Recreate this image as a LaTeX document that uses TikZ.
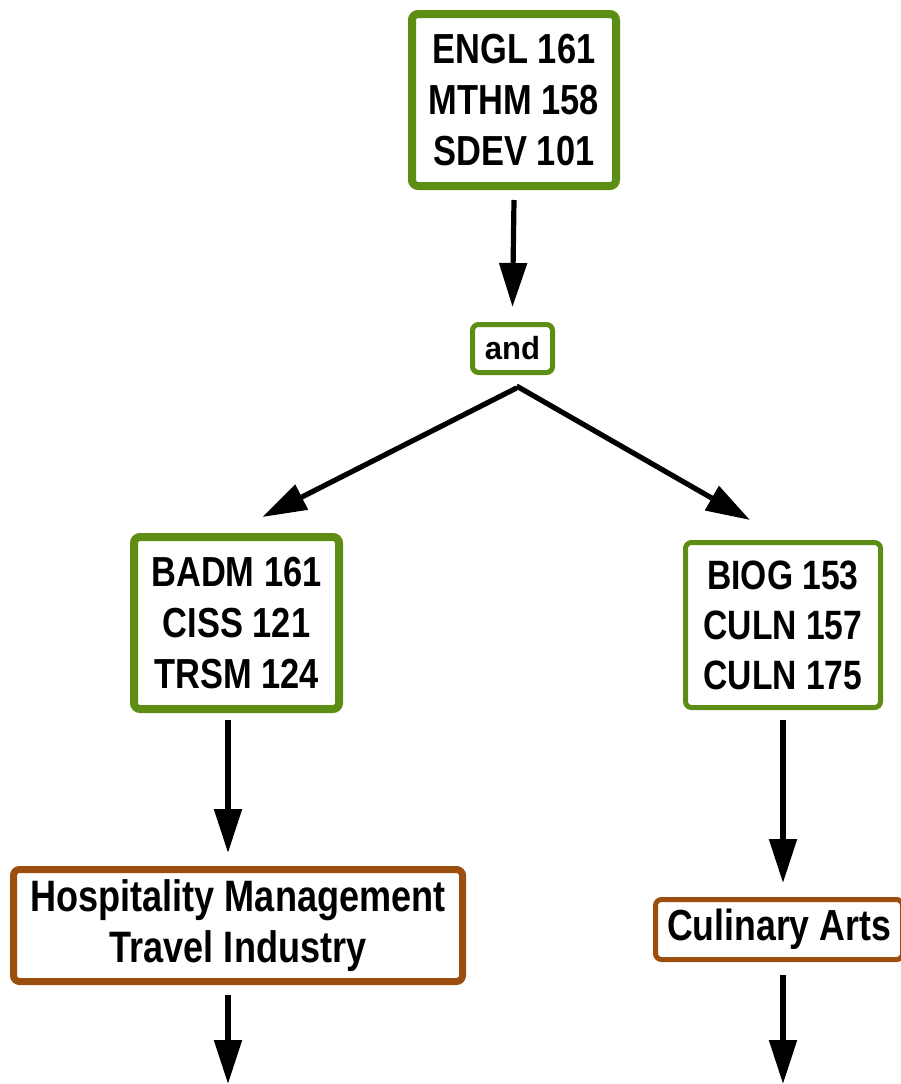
\documentclass[tikz,border=0pt]{standalone}
\usepackage{fontspec}
\setmainfont[FakeStretch=0.82]{Liberation Sans}
\newfontfamily\andfont[FakeStretch=0.97]{Liberation Sans}
\usetikzlibrary{arrows.meta}
\definecolor{boxgreen}{RGB}{94,141,20}
\definecolor{boxbrown}{RGB}{155,78,14}
\tikzset{
  course/.style={draw=boxgreen, line width=8pt, rounded corners=6pt, fill=white, inner sep=0pt, align=center,
    font=\bfseries\fontsize{42}{51}\selectfont},
  thin course/.style={course, line width=5pt},
  career/.style={draw=boxbrown, line width=7pt, rounded corners=6pt, fill=white, inner sep=0pt, align=center,
    font=\bfseries\fontsize{44}{51}\selectfont},
  flow/.style={line width=5.2pt, -{Triangle[length=44pt,width=27pt]}},
}
\begin{document}
\begin{tikzpicture}[x=1pt,y=-1pt]
\useasboundingbox (0,0) rectangle (901,1084);
\clip (0,0) rectangle (901,1084);
\node[course, minimum width=204pt, minimum height=172pt] (top) at (514,100) {ENGL 161\\MTHM 158\\SDEV 101};
\node[thin course, minimum width=80pt, minimum height=48pt, font=\andfont\bfseries\fontsize{32}{36}\selectfont] (and) at (512.5,348.5) {and};
\node[course, minimum width=205pt, minimum height=172pt] (left) at (236.5,623) {BADM 161\\CISS 121\\TRSM 124};
\node[thin course, minimum width=195pt, minimum height=165pt, font=\bfseries\fontsize{41}{50}\selectfont] (right) at (783,625) {BIOG 153\\CULN 157\\CULN 175};
\node[career, minimum width=449pt, minimum height=112pt] (hosp) at (238,925.5) {Hospitality Management\\Travel Industry};
\node[career, line width=5pt, minimum width=247pt, minimum height=60pt, font=\bfseries\fontsize{43.5}{50}\selectfont] (cul) at (779,929.5) {Culinary Arts};
\coordinate (endL) at (228,1084);
\coordinate (endR) at (783,1084);
\draw[flow] ([yshift=-10pt]top.south) -- ([yshift=15pt]and.north);
\draw[flow] ([xshift=4pt,yshift=-13pt]and.south) -- ([xshift=26pt,yshift=16pt]left.north);
\draw[flow] ([xshift=4pt,yshift=-11pt]and.south) -- ([xshift=-33pt,yshift=20pt]right.north);
\draw[flow] ([xshift=-8.5pt,yshift=-7pt]left.south) -- ([xshift=-10pt,yshift=13pt]hosp.north);
\draw[flow] ([yshift=-10pt]right.south) -- ([xshift=4pt,yshift=14pt]cul.north);
\draw[flow] ([xshift=-10pt,yshift=-10pt]hosp.south) -- (endL);
\draw[flow] ([xshift=4pt,yshift=-13pt]cul.south) -- (endR);
\end{tikzpicture}
\end{document}
